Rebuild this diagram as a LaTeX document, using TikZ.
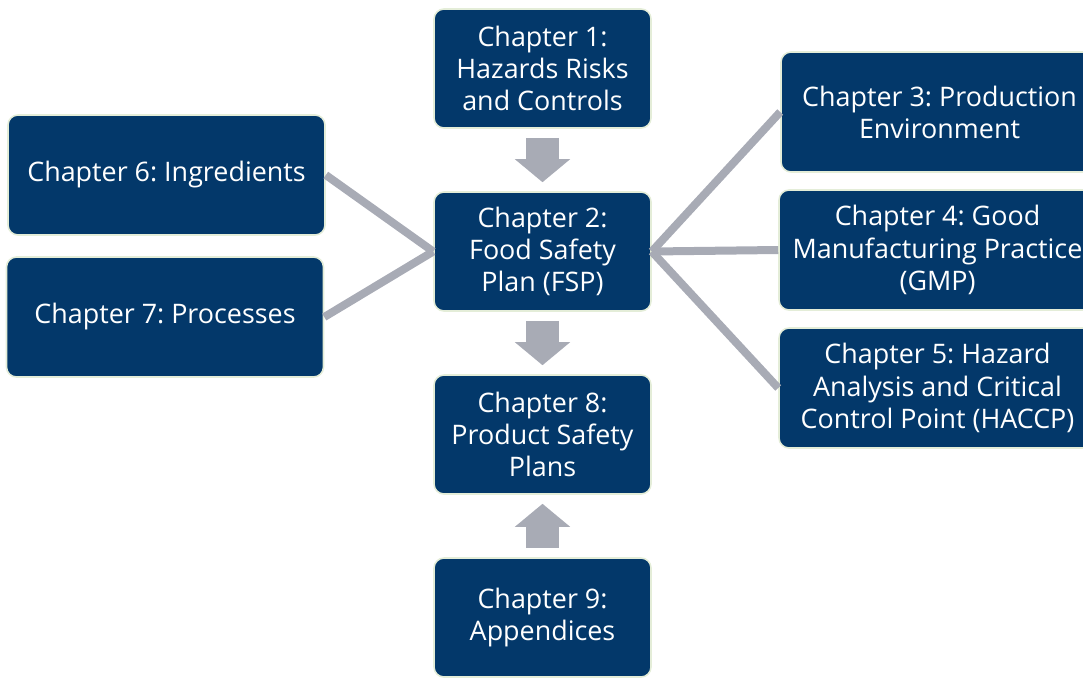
\documentclass[tikz,border=0pt]{standalone}
\usepackage{fontspec}
\setmainfont{Open Sans}
\usetikzlibrary{arrows.meta}

\definecolor{chapterblue}{HTML}{03386A}
\definecolor{chapteredge}{HTML}{E4EDD8}
\definecolor{linkgray}{HTML}{A8ABB5}

\begin{document}
\frenchspacing
\begin{tikzpicture}[
	node distance=3.66cm,
	block/.style={rectangle, draw=chapteredge, line width=0.9pt, fill=chapterblue, text=white, rounded corners=0.2cm, align=center, minimum width=4.34cm, minimum height=2.38cm, font=\fontsize{15.3}{18.3}\selectfont},
	wide/.style={block, minimum width=6.34cm, minimum height=2.4cm},
	arrow/.style={linkgray, line width=0.66cm, -{Triangle[width=1.08cm, length=0.46cm]}, shorten <=0.18cm, shorten >=0.18cm},
	link/.style={linkgray, line width=0.16cm}
	]
	
	\useasboundingbox (0,0) rectangle (21.66,-13.54);
	\clip (0,0) rectangle (21.66,-13.54);
	
	% Main column
	\node[block] (ch1) at (10.85,-1.37) {Chapter 1:\\ Hazards Risks\\ and Controls};
	\node[block, below of=ch1] (ch2) {Chapter 2:\\ Food Safety\\ Plan (FSP)};
	\node[block, below of=ch2] (ch8) {Chapter 8:\\ Product Safety\\ Plans};
	\node[block, below of=ch8] (ch9) {Chapter 9:\\ Appendices};
	
	% Left side
	\node[wide] (ch6) at (3.33,-3.50) {Chapter 6: Ingredients};
	\node[wide] (ch7) at (3.30,-6.34) {Chapter 7: Processes};
	
	% Right side
	\node[wide] (ch3) at (18.79,-2.24) {Chapter 3: Production\\ Environment};
	\node[wide] (ch4) at (18.75,-5.00) {Chapter 4: Good\\ Manufacturing Practice\\ (GMP)};
	\node[wide] (ch5) at (18.75,-7.76) {Chapter 5: Hazard\\ Analysis and Critical\\ Control Point (HACCP)};
	
	% Arrows
	\draw[arrow] (ch1) -- (ch2);
	\draw[arrow] (ch2) -- (ch8);
	\draw[arrow] (ch9) -- (ch8);
	
	% Links
	\draw[link] (ch6.east) -- (ch2.west);
	\draw[link] (ch7.east) -- (ch2.west);
	\draw[link] (ch2.east) -- (ch3.west);
	\draw[link] (ch2.east) -- (ch4.west);
	\draw[link] (ch2.east) -- (ch5.west);
	
\end{tikzpicture}
\end{document}
